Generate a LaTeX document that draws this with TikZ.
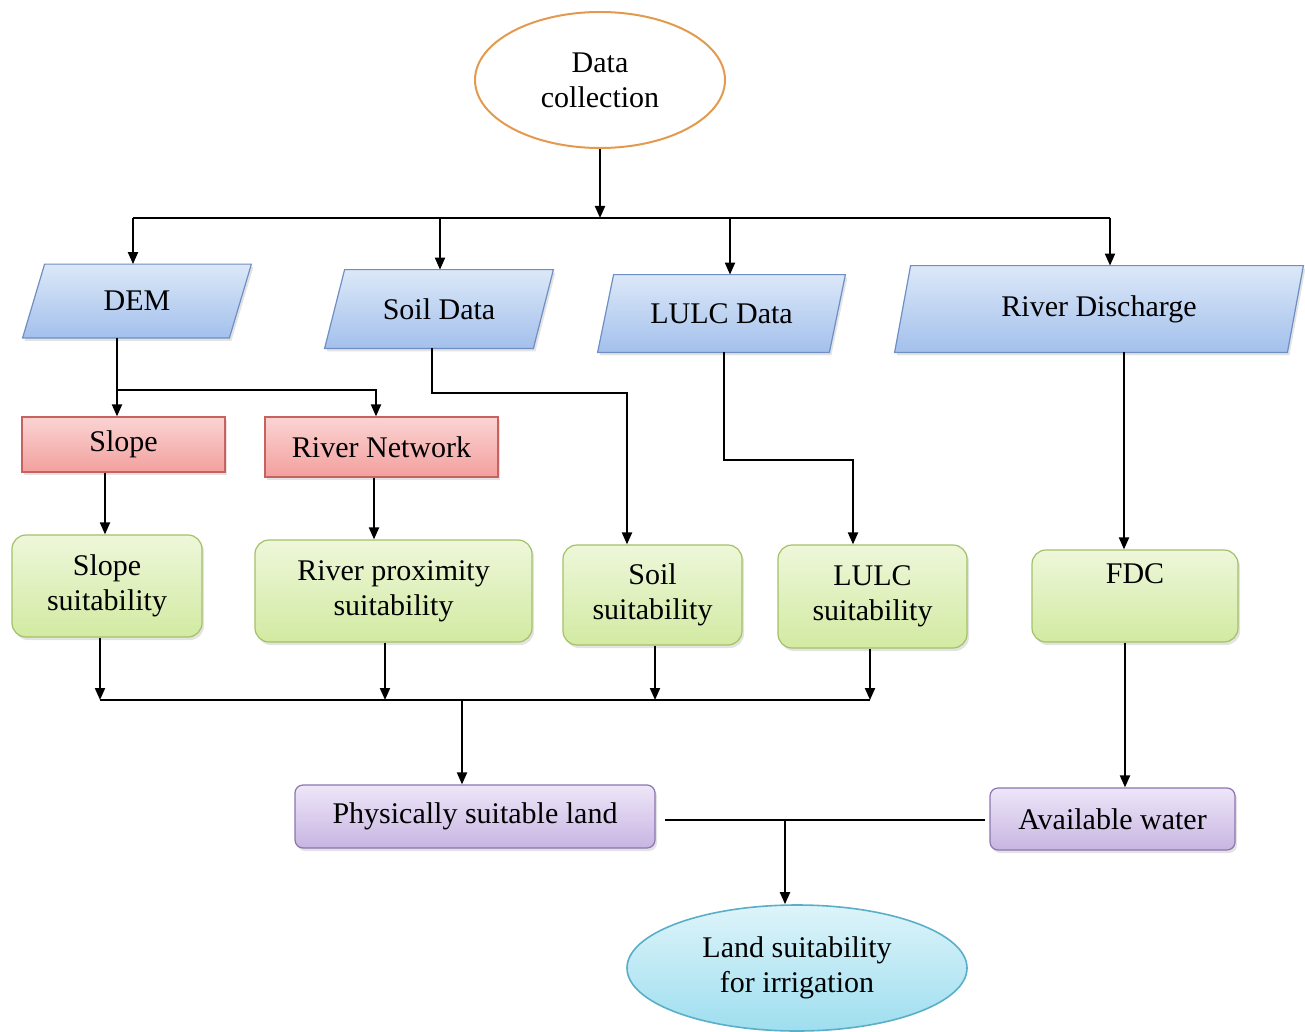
\documentclass[tikz,border=0pt]{standalone}
\usepackage{fontspec}
\setmainfont{Liberation Serif}
\usetikzlibrary{shapes.geometric,arrows.meta,shadows}
\pgfdeclarelayer{background}
\pgfsetlayers{background,main}
\definecolor{orangeE}{HTML}{E39A4E}
\definecolor{blueT}{HTML}{DCE8F8}
\definecolor{blueB}{HTML}{A3C0EC}
\definecolor{blueD}{HTML}{6E8FC4}
\definecolor{pinkT}{HTML}{FAD4D3}
\definecolor{pinkB}{HTML}{F2A09E}
\definecolor{pinkD}{HTML}{C8625F}
\definecolor{greenT}{HTML}{EEF7DA}
\definecolor{greenB}{HTML}{D2EAA2}
\definecolor{greenD}{HTML}{A3C166}
\definecolor{purpT}{HTML}{EEE6F8}
\definecolor{purpB}{HTML}{C7B5E2}
\definecolor{purpD}{HTML}{8C74AE}
\definecolor{cyanT}{HTML}{DDF4FA}
\definecolor{cyanB}{HTML}{9FDEEF}
\definecolor{cyanD}{HTML}{5AAFC8}
\tikzset{
  every node/.style={font=\fontsize{15}{17.5}\selectfont, align=center, inner sep=0pt},
  shad/.style={drop shadow={opacity=0.22, shadow xshift=1pt, shadow yshift=-1.5pt}},
  inbox/.style={rectangle},
  inshape/.style={draw=blueD, line width=0.6pt, top color=blueT, bottom color=blueB, shad},
  procbox/.style={rectangle, draw=pinkD, line width=0.6pt, top color=pinkT, bottom color=pinkB, shad},
  suitbox/.style={rectangle, rounded corners=7pt, draw=greenD, line width=0.6pt, top color=greenT, bottom color=greenB, shad},
  resbox/.style={rectangle, rounded corners=4pt, draw=purpD, line width=0.6pt, top color=purpT, bottom color=purpB, shad},
  conn/.style={line width=1pt, draw=black},
  arr/.style={conn, -{Triangle[length=6pt,width=5pt]}},
}
\newcommand{\parashape}[2]{%
  \begin{pgfonlayer}{background}
  \path[inshape] ([xshift=#2]#1.north west) -- (#1.north east) -- ([xshift=-#2]#1.south east) -- (#1.south west) -- cycle;
  \end{pgfonlayer}}
\begin{document}
\begin{tikzpicture}[x=0.5pt,y=-0.5pt]
\useasboundingbox (0,0) rectangle (1305,1032);

% top ellipse
\node[ellipse, draw=orangeE, line width=1pt, fill=white, minimum width=125pt, minimum height=68pt] (dc) at (600,80) {Data\\collection};

% inputs (parallelograms drawn from the node corners)
\node[inbox, minimum width=114pt, minimum height=36.5pt] (dem) at (137,301) {DEM};
\node[inbox, minimum width=114pt, minimum height=39pt] (soil) at (439,309) {Soil Data};
\node[inbox, minimum width=123.5pt, minimum height=38.5pt] (lulc) at (721.5,313.5) {LULC Data};
\node[inbox, minimum width=204pt, minimum height=43pt] (rd) at (1099,309) {River Discharge};
\parashape{dem}{11pt}
\parashape{soil}{10pt}
\parashape{lulc}{8pt}
\parashape{rd}{8pt}

% derived
\node[procbox, minimum width=101.5pt, minimum height=27.5pt] (slope) at (123.5,444.5) {Slope};
\node[procbox, minimum width=116.5pt, minimum height=30pt] (rnet) at (381.5,447) {River Network};

% suitability
\node[suitbox, minimum width=95pt, minimum height=51pt] (ss) at (107,586) {Slope\\suitability};
\node[suitbox, minimum width=138.5pt, minimum height=51pt] (rps) at (393.5,591) {River proximity\\suitability};
\node[suitbox, minimum width=89.5pt, minimum height=50pt] (soils) at (652.5,595) {Soil\\suitability};
\node[suitbox, minimum width=94.5pt, minimum height=51.5pt] (lulcs) at (872.5,596.5) {LULC\\suitability};
\node[suitbox, minimum width=103pt, minimum height=46pt] (fdc) at (1135,596) {FDC\\\strut};

% results
\node[resbox, minimum width=180pt, minimum height=31.5pt] (psl) at (475,816.5) {Physically suitable land};
\node[resbox, minimum width=122.5pt, minimum height=31pt] (aw) at (1112.5,819) {Available water};

% final ellipse
\node[ellipse, draw=cyanD, line width=0.8pt, top color=cyanT, bottom color=cyanB, minimum width=170pt, minimum height=63pt] (lsi) at (797,968) {Land suitability\\for irrigation};

% top bus
\coordinate (b0) at (600,218);
\coordinate (bA) at (133,218);
\coordinate (bB) at (440,218);
\coordinate (bC) at (730,218);
\coordinate (bD) at (1110,218);
\draw[arr] (dc) -- (b0);
\draw[conn] (bA) -- (bD);
\draw[arr] (bA) -- (bA |- dem.north);
\draw[arr] (bB) -- (bB |- soil.north);
\draw[arr] (bC) -- (bC |- lulc.north);
\draw[arr] (bD) -- (bD |- rd.north);

% DEM branch
\coordinate (d1) at (117,390);
\coordinate (d2) at (376,390);
\draw[conn] (d1 |- dem.south) -- (d1);
\draw[arr] (d1) -- (d1 |- slope.north);
\draw[arr] (d1) -- (d2) -- (d2 |- rnet.north);

% Soil branch
\coordinate (s1) at (432,393);
\coordinate (s2) at (627,393);
\draw[arr] (s1 |- soil.south) -- (s1) -- (s2) -- (s2 |- soils.north);

% LULC branch
\coordinate (l1) at (724,460);
\coordinate (l2) at (853,460);
\draw[arr] (l1 |- lulc.south) -- (l1) -- (l2) -- (l2 |- lulcs.north);

% River discharge
\coordinate (r1) at (1124,400);
\draw[arr] (r1 |- rd.south) -- (r1 |- fdc.north);

% slope / river network to suitability
\coordinate (p1) at (105,500);
\coordinate (p2) at (374,500);
\draw[arr] (p1 |- slope.south) -- (p1 |- ss.north);
\draw[arr] (p2 |- rnet.south) -- (p2 |- rps.north);

% bottom bus
\coordinate (g1) at (100,700);
\coordinate (g2) at (385,700);
\coordinate (g3) at (655,700);
\coordinate (g4) at (870,700);
\coordinate (g0) at (462,700);
\draw[arr] (g1 |- ss.south) -- (g1);
\draw[arr] (g2 |- rps.south) -- (g2);
\draw[arr] (g3 |- soils.south) -- (g3);
\draw[arr] (g4 |- lulcs.south) -- (g4);
\draw[conn] (g1) -- (g4);
\draw[arr] (g0) -- (g0 |- psl.north);

% FDC to available water
\coordinate (f1) at (1125,700);
\draw[arr] (f1 |- fdc.south) -- (f1 |- aw.north);

% final join
\coordinate (j1) at (665,820);
\coordinate (j2) at (985,820);
\coordinate (j0) at (785,820);
\draw[conn] (j1) -- (j2);
\draw[arr] (j0) -- (j0 |- lsi.north);
\end{tikzpicture}
\end{document}
